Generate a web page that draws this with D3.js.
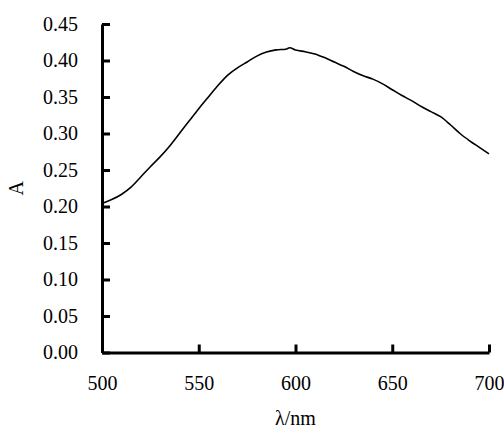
<!DOCTYPE html>
<html>
<head>
<meta charset="utf-8">
<script src="https://cdn.jsdelivr.net/npm/d3@7"></script>
<style>
  body { margin: 0; background: #fff; }
  svg text { font-family: "Liberation Serif", "Times New Roman", serif; fill: #000; }
</style>
</head>
<body>
<svg id="chart" width="504" height="430"></svg>
<script>
// wavelength (nm) and absorbance
var wavelengths = [500, 505, 510, 515, 520, 525, 530, 535, 540, 545, 550, 555, 560, 565, 570,
  575, 580, 585, 590, 595, 597, 600, 605, 610, 615, 620, 625, 630, 635, 640, 645, 650,
  655, 660, 665, 670, 675, 680, 685, 690, 695, 700];
var absorbance = [0.204, 0.2095, 0.2165, 0.2265, 0.2405, 0.2545, 0.268, 0.283, 0.300, 0.317, 0.334,
  0.350, 0.366, 0.380, 0.390, 0.398, 0.406, 0.4115, 0.4145, 0.4155, 0.4175, 0.4145, 0.412,
  0.409, 0.404, 0.398, 0.392, 0.385, 0.379, 0.3745, 0.368, 0.360, 0.352, 0.345, 0.337,
  0.330, 0.323, 0.312, 0.300, 0.290, 0.281, 0.272];

var xTicks = [500, 550, 600, 650, 700];
var yTicks = [0, 0.05, 0.10, 0.15, 0.20, 0.25, 0.30, 0.35, 0.40, 0.45];

var svg = d3.select("#chart"),
  width = +svg.attr("width"),
  height = +svg.attr("height");

var margin = { top: 24, right: 15, bottom: 77.5, left: 102 };

var x = d3.scaleLinear().domain([500, 700]).range([margin.left, width - margin.right]);
var y = d3.scaleLinear().domain([0, 0.45]).range([height - margin.bottom, margin.top]);

// y axis, ticks pointing inward
var yAxis = svg.append("g")
  .attr("transform", "translate(" + margin.left + ",0)")
  .call(d3.axisLeft(y).tickValues(yTicks).tickFormat(d3.format(".2f"))
    .tickSizeInner(-8).tickSizeOuter(0).tickPadding(24));

// x axis, ticks pointing up
var xAxis = svg.append("g")
  .attr("transform", "translate(0," + y(0) + ")")
  .call(d3.axisBottom(x).tickValues(xTicks).tickFormat(d3.format("d"))
    .tickSizeInner(-8).tickSizeOuter(0).tickPadding(23.5));

[xAxis, yAxis].forEach(function(a) {
  a.select(".domain").attr("stroke", "#000").attr("stroke-width", 3);
  a.selectAll(".tick line").attr("stroke", "#000").attr("stroke-width", 3);
  a.selectAll(".tick text").style("font-size", "20px");
});

// spectrum
var line = d3.line()
  .x(function(d, i) { return x(wavelengths[i]); })
  .y(function(d) { return y(d); })
  .curve(d3.curveMonotoneX);

svg.append("path")
  .datum(absorbance)
  .attr("d", line)
  .attr("fill", "none")
  .attr("stroke", "#000")
  .attr("stroke-width", 1.6);

// axis titles
svg.append("text")
  .attr("transform", "translate(23," + ((margin.top + y(0)) / 2) + ") rotate(-90)")
  .attr("text-anchor", "middle")
  .style("font-size", "20px")
  .text("A");

svg.append("text")
  .attr("x", (x(500) + x(700)) / 2)
  .attr("y", 425)
  .attr("text-anchor", "middle")
  .style("font-size", "20px")
  .text("λ/nm");
</script>
</body>
</html>
